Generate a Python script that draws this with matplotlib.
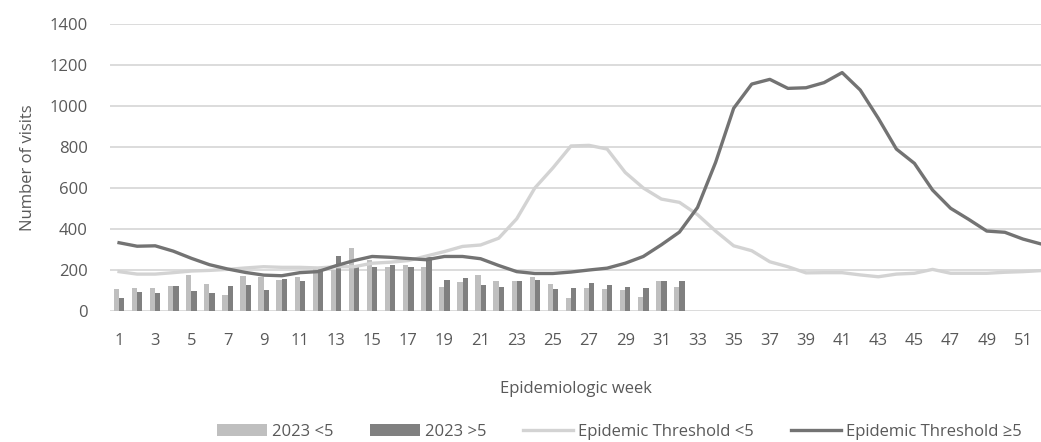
import numpy as np
import matplotlib.pyplot as plt

plt.rcParams['font.family'] = ['Open Sans', 'DejaVu Sans']

weeks = np.arange(1, 53)
bar_weeks = np.arange(1, 33)

# 2023 visits, children <5 and >5 (weeks 1-32)
visits_u5 = [107, 111, 110, 121, 174, 131, 79, 169, 164, 151, 167, 216, 200, 306, 251, 216,
             224, 213, 118, 143, 177, 144, 148, 167, 134, 62, 111, 108, 103, 66, 144, 115]
visits_o5 = [64, 95, 89, 121, 100, 90, 120, 125, 102, 156, 148, 210, 266, 216, 216, 226,
             216, 262, 152, 162, 125, 115, 148, 151, 108, 111, 136, 128, 115, 110, 144, 144]

# epidemic thresholds
thr_u5 = [192, 180, 180, 187, 195, 198, 203, 210, 216, 213, 213, 210, 216, 216, 233, 238,
          246, 268, 290, 315, 322, 355, 450, 600, 698, 805, 808, 790, 676, 600, 546, 530,
          470, 390, 318, 294, 240, 216, 186, 187, 187, 176, 167, 180, 184, 203, 184, 184,
          184, 189, 192, 197]
thr_o5 = [333, 316, 318, 292, 257, 226, 205, 188, 175, 172, 187, 192, 221, 246, 266, 262,
          256, 250, 266, 266, 255, 222, 192, 183, 183, 190, 200, 209, 233, 266, 323, 385,
          505, 725, 989, 1107, 1130, 1086, 1089, 1114, 1163, 1078, 940, 790, 720, 590, 501, 447,
          390, 384, 351, 327]

c_light_bar = '#bfbfbf'
c_dark_bar = '#808080'
c_light_line = '#d3d3d3'
c_dark_line = '#737373'
txt = '#595959'

fig = plt.figure(figsize=(10.41, 4.42), dpi=100)
ax = fig.add_axes([110 / 1041, 1 - 311 / 442, 931 / 1041, 287 / 442])

bw = 0.29
b1 = ax.bar(bar_weeks - bw / 2, visits_u5, width=bw, color=c_light_bar, label='2023 <5', zorder=2)
b2 = ax.bar(bar_weeks + bw / 2, visits_o5, width=bw, color=c_dark_bar, label='2023 >5', zorder=2)
l1, = ax.plot(weeks, thr_u5, color=c_light_line, lw=2.4, label='Epidemic Threshold <5', zorder=3)
l2, = ax.plot(weeks, thr_o5, color=c_dark_line, lw=2.4, label='Epidemic Threshold \u22655', zorder=4)

ax.set_xlim(0.5, 52.0)
ax.set_ylim(0, 1400)
ax.set_yticks(np.arange(0, 1401, 200))
ax.set_xticks(np.arange(1, 53, 2))
ax.grid(axis='y', color='#d9d9d9', lw=1.3, zorder=0)
ax.set_axisbelow(True)
for s in ax.spines.values():
    s.set_visible(False)
ax.tick_params(length=0, labelsize=12, labelcolor=txt)
ax.tick_params(axis='y', pad=16)
ax.tick_params(axis='x', pad=16)

ax.set_ylabel('Number of visits', fontsize=12, color=txt, labelpad=10)
ax.set_xlabel('Epidemiologic week', fontsize=12, color=txt, labelpad=23)

fig.legend(handles=[b1, b2, l1, l2], loc='center', bbox_to_anchor=(0.595, 1 - 432 / 442),
           ncol=4, frameon=False, fontsize=12, labelcolor=txt, handlelength=3.0,
           columnspacing=2.2, handletextpad=0.3)

fig.savefig('out.png', dpi=100)
